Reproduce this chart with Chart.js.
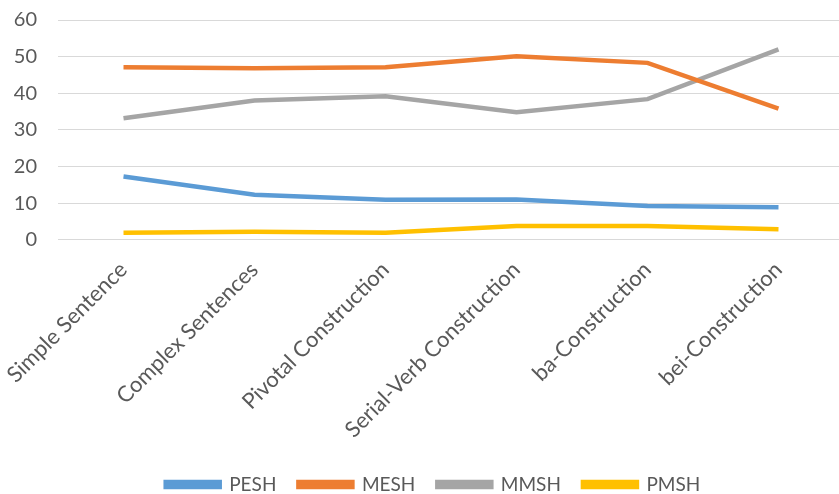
<!DOCTYPE html>
<html>
<head>
<meta charset="utf-8">
<script src="https://cdn.jsdelivr.net/npm/chart.js@4/dist/chart.umd.min.js"></script>
<style>
  html, body { margin: 0; padding: 0; background: #ffffff; overflow: hidden; }
  #wrap { width: 839px; height: 494px; overflow: hidden; }
  #c { display: block; }
</style>
</head>
<body>
<div id="wrap"><canvas id="c" width="844" height="494"></canvas></div>
<script>
// Sentence / construction types along the x axis
const categories = [
  'Simple Sentence',
  'Complex Sentences',
  'Pivotal Construction',
  'Serial-Verb Construction',
  'ba-Construction',
  'bei-Construction'
];

// Percentages per group
const peshValues = [17.3, 12.3, 10.9, 11.0, 9.2, 8.9];
const meshValues = [47.1, 46.8, 47.1, 50.1, 48.3, 35.8];
const mmshValues = [33.2, 38.0, 39.2, 34.8, 38.4, 52.0];
const pmshValues = [1.9, 2.2, 1.9, 3.8, 3.8, 2.9];

// Value axis ticks
const yTicks = [0, 10, 20, 30, 40, 50, 60];

const seriesNames = ['PESH', 'MESH', 'MMSH', 'PMSH'];
const seriesColors = ['#5B9BD5', '#ED7D31', '#A5A5A5', '#FFC000'];
const seriesValues = [peshValues, meshValues, mmshValues, pmshValues];

const fontFamily = 'Lato, "Open Sans", sans-serif';
const textColor = '#595959';

const datasets = seriesNames.map((name, i) => ({
  label: name,
  data: seriesValues[i],
  borderColor: seriesColors[i],
  backgroundColor: seriesColors[i],
  borderWidth: 4.5,
  pointRadius: 0,
  pointHoverRadius: 0,
  tension: 0,
  fill: false
}));

// Nudges the legend row a little to the right of the canvas centre
const legendShift = {
  id: 'legendShift',
  afterLayout(chart) {
    const lg = chart.legend;
    if (lg) { lg.left += 11; lg.right += 11; }
  }
};

new Chart(document.getElementById('c'), {
  type: 'line',
  data: { labels: categories, datasets },
  plugins: [legendShift],
  options: {
    responsive: false,
    animation: false,
    devicePixelRatio: 1,
    layout: { padding: { top: 20, right: 0, left: 0, bottom: -10 } },
    plugins: {
      tooltip: { enabled: false },
      legend: {
        position: 'bottom',
        labels: {
          font: { family: fontFamily, size: 19 },
          color: textColor,
          boxWidth: 54,
          boxHeight: 5,
          padding: 22
        }
      }
    },
    scales: {
      x: {
        offset: true,
        grid: { display: false, drawTicks: false },
        border: { display: false },
        // let the slanted labels run into the legend's top margin
        afterFit: (scale) => { scale.paddingLeft = 0; scale.paddingRight = 0; scale.height -= 7; },
        ticks: {
          autoSkip: false,
          minRotation: 45,
          maxRotation: 45,
          padding: 17,
          color: textColor,
          font: { family: fontFamily, size: 22 }
        }
      },
      y: {
        min: 0,
        max: 60,
        afterBuildTicks: (axis) => { axis.ticks = yTicks.map(v => ({ value: v })); },
        afterFit: (scale) => { scale.width = 58; scale.paddingTop = 0; scale.paddingBottom = 0; },
        grid: { color: '#D9D9D9', lineWidth: 1, drawTicks: false },
        border: { display: false },
        ticks: {
          padding: 21,
          color: textColor,
          font: { family: fontFamily, size: 20 }
        }
      }
    }
  }
});
</script>
</body>
</html>
